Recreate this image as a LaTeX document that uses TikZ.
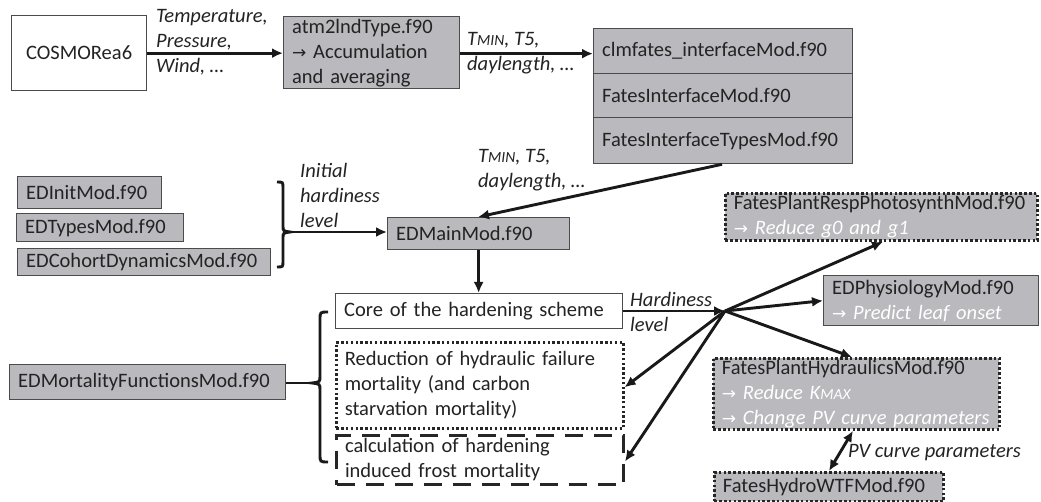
\documentclass[tikz,border=0pt]{standalone}
\usepackage{fontspec}
\setmainfont{Carlito}
\newfontfamily\symfont{DejaVu Sans}
\usetikzlibrary{arrows.meta}
\definecolor{gfill}{RGB}{185,185,190}
\definecolor{bord}{RGB}{75,75,75}
\definecolor{txt}{RGB}{35,35,35}
\newcommand{\myarrow}{{\symfont\fontsize{17}{25}\selectfont →}}
\newcommand{\mysmc}[1]{{\fontsize{15.5}{25}\selectfont #1}}
\begin{document}
\begin{tikzpicture}[x=1pt,y=-1pt, font=\fontsize{20.5}{25}\selectfont, text=txt,
  base/.style={anchor=north west, inner xsep=8.5pt, inner ysep=0pt, align=left},
  gb/.style={base, draw=bord, fill=gfill, line width=1.3pt},
  wb/.style={base, draw=bord, fill=white, line width=1.3pt},
  dotw/.style={base, draw=black!85, fill=white, line width=2.6pt, dash pattern=on 2.4pt off 2.4pt},
  dotg/.style={base, draw=black!85, fill=gfill, line width=2.8pt, dash pattern=on 2.6pt off 2.2pt},
  dashw/.style={base, draw=black!85, fill=white, line width=3pt, dash pattern=on 18pt off 11pt},
  conn/.style={line width=2.9pt, draw=black!90, -{Latex[length=11pt,width=10pt]}},
  dconn/.style={line width=2.9pt, draw=black!90, {Latex[length=11pt,width=10pt]}-{Latex[length=11pt,width=10pt]}},
  plain/.style={line width=2.9pt, draw=black!90},
  lab/.style={inner sep=0pt, align=left, anchor=west, font=\fontsize{20.5}{25}\selectfont\itshape}
]
\useasboundingbox[fill=white] (0,0) rectangle (1041,502);

% top row
\node[wb, align=center, text width=118pt, minimum height=75pt] (cosmo) at (11,15) {COSMORea6};
\node[gb, text width=159pt, minimum height=72pt] (atm) at (283,16) {atm2lndType.f90\\\myarrow{} Accumulation\\and averaging};
\node[gb, text width=242pt, minimum height=45pt] (ifc1) at (593,28) {clmfates\_interfaceMod.f90};
\node[gb, text width=242pt, minimum height=44pt] (ifc2) at (593,73) {FatesInterfaceMod.f90};
\node[gb, text width=242pt, minimum height=46pt] (ifc3) at (593,117) {FatesInterfaceTypesMod.f90};

% left column
\node[gb, text width=127pt, minimum height=32pt] (init) at (17,176) {EDInitMod.f90};
\node[gb, text width=150pt, minimum height=28pt] (types) at (16,213) {EDTypesMod.f90};
\node[gb, text width=236pt, minimum height=27pt] (cohort) at (17,248) {EDCohortDynamicsMod.f90};
\node[gb, text width=259pt, minimum height=35pt] (mort) at (9,364) {EDMortalityFunctionsMod.f90};

% middle
\node[gb, text width=165pt, minimum height=32pt] (main) at (387,217) {EDMainMod.f90};
\node[wb, text width=270pt, minimum height=35pt] (core) at (335,293) {Core of the hardening scheme};
\node[dotw, text width=270pt, minimum height=86pt] (red) at (335,341) {Reduction of hydraulic failure\\mortality (and carbon\\starvation mortality)};
\node[dashw, text width=270pt, minimum height=49pt] (calc) at (335,434) {calculation of hardening\\induced frost mortality};

% right
\node[dotg, text width=295pt, minimum height=47pt] (resp) at (724,192) {FatesPlantRespPhotosynthMod.f90\\{\color{white}\itshape\myarrow{} Reduce g0 and g1}};
\node[gb, text width=198pt, minimum height=50pt] (phys) at (823,275) {EDPhysiologyMod.f90\\{\color{white}\itshape\myarrow{} Predict leaf onset}};
\node[dotg, text width=269pt, minimum height=71pt] (hyd) at (712,357) {FatesPlantHydraulicsMod.f90\\{\color{white}\itshape\myarrow{} Reduce K\mysmc{MAX}}\\{\color{white}\itshape\mbox{\myarrow{} Change PV curve parameters}}};
\node[dotg, text width=212pt, minimum height=29pt] (wtf) at (713,471) {FatesHydroWTFMod.f90};

% labels
\node[lab] (l1) at (156,42) {Temperature,\\Pressure,\\Wind, \dots};
\node[lab] (l2) at (467,53.5) {T\mysmc{MIN}, T5,\\daylength, \dots};
\node[lab] (l3) at (478,170) {T\mysmc{MIN}, T5,\\daylength, \dots};
\node[lab] (l4) at (300,195) {Initial\\hardiness\\level};
\node[lab] (l5) at (630,311.5) {Hardiness\\level};
\node[lab] (l6) at (848,453) {PV curve parameters};

% coordinates
\coordinate (b1) at (290,232);
\coordinate (b2) at (312,383);
\coordinate (jn) at (725,311);

% braces
\draw[plain] (277,182) .. controls (283,182) .. (283,188) -- (283,226)
  .. controls (283,231) .. (290,232) .. controls (283,233) .. (283,238)
  -- (283,261) .. controls (283,267) .. (277,267);
\draw[plain] (328,312) .. controls (320,312) .. (320,320) -- (320,376)
  .. controls (320,382) .. (312,383) .. controls (320,384) .. (320,390)
  -- (320,454) .. controls (320,462) .. (328,462);

% connectors
\draw[conn] (cosmo.east) -- (cosmo.east -| atm.west);
\draw[conn] ([yshift=-1pt]atm.east) -- ([yshift=-1pt]atm.east -| ifc1.west);
\draw[conn] ([xshift=129pt]ifc3.south west) -- ([xshift=91pt]main.north west);
\draw[conn] (b1) -- (b1 -| main.west);
\draw[conn] (main.south) -- (main.south |- core.north);
\draw[plain] (b2 -| mort.east) -- (b2);
\draw[conn] (core.east |- jn) -- (jn);
\draw[conn] (jn) -- ([xshift=159pt]resp.south west);
\draw[conn] (jn) -- (phys.west);
\draw[conn] (jn) -- ([xshift=140pt]hyd.north west);
\draw[conn] (jn) -- ([yshift=-2pt]red.east);
\draw[conn] (jn) -- ([yshift=-1.5pt]calc.east);
\draw[dconn] ([xshift=141pt]hyd.south west) -- ([xshift=116pt]wtf.north west);
\end{tikzpicture}
\end{document}
